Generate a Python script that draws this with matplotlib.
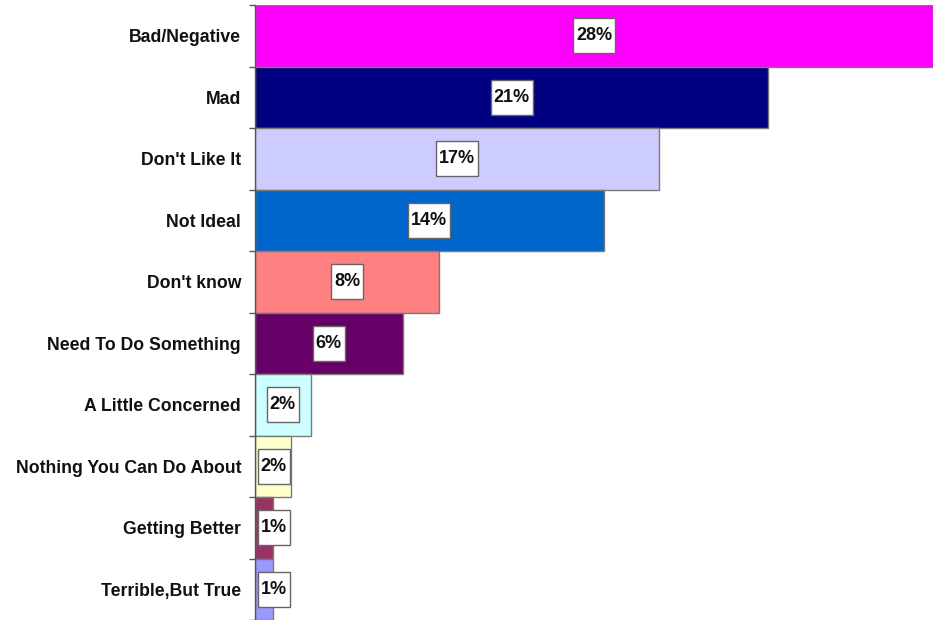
import matplotlib
matplotlib.use("Agg")
import matplotlib.pyplot as plt
import numpy as np

categories = ["Bad/Negative", "Mad", "Don't Like It", "Not Ideal", "Don't know",
              "Need To Do Something", "A Little Concerned", "Nothing You Can Do About",
              "Getting Better", "Terrible,But True"]
values = [28.0, 21.2, 16.7, 14.4, 7.6, 6.1, 2.3, 1.5, 0.75, 0.75]
value_labels = ["28%", "21%", "17%", "14%", "8%", "6%", "2%", "2%", "1%", "1%"]
colors = ["#FF00FF", "#000080", "#CCCCFF", "#0066CC", "#FF8080",
          "#660066", "#CCFFFF", "#FFFFCC", "#993366", "#9999FF"]

plt.rcParams['font.family'] = ['Liberation Sans', 'DejaVu Sans']

fig = plt.figure(figsize=(9.37, 6.2), dpi=100)
ax = fig.add_axes([255/937, 0.0, 678/937, 615/620])

y = np.arange(len(categories))
ax.barh(y, values, height=1.0, color=colors, edgecolor="#7a7a7a", linewidth=1.0)
ax.set_xlim(0, 28)
ax.set_ylim(len(categories) - 0.5, -0.5)

for s in ["top", "right", "bottom"]:
    ax.spines[s].set_visible(False)
ax.spines["left"].set_color("#555555")
ax.spines["left"].set_linewidth(1.0)
ax.set_xticks([])
ax.set_yticks(y)
ax.set_yticklabels(categories, fontsize=12.7, fontweight="bold", color="#111111")
ax.tick_params(axis="y", which="major", length=0, pad=10)
ax.set_yticks(np.arange(len(categories) + 1) - 0.5, minor=True)
ax.tick_params(axis="y", which="minor", length=4, width=1, color="#555555", direction="out")

min_center = 0.78
for i, (v, lab) in enumerate(zip(values, value_labels)):
    xc = max(v / 2, min_center)
    ax.text(xc, i, lab, ha="center", va="center", fontsize=13, fontweight="bold",
            color="#111111",
            bbox=dict(boxstyle="square,pad=0.16", facecolor="white",
                      edgecolor="#666666", linewidth=1.0, mutation_aspect=3.2))

fig.savefig("out.png", dpi=100, facecolor="white")
